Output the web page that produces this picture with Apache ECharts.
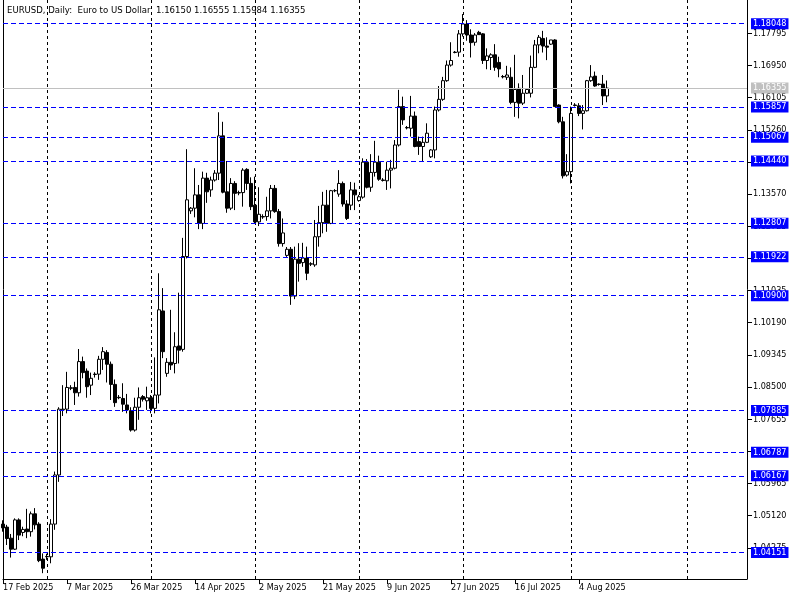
<!DOCTYPE html>
<html><head><meta charset="utf-8">
<script src="https://cdn.jsdelivr.net/npm/echarts@6/dist/echarts.min.js"></script>
<style>html,body{margin:0;padding:0;background:#fff}#c{width:800px;height:600px}</style>
</head><body><div id="c"></div>
<script>
// ---------------- DATA ----------------
const titleText = 'EURUSD, Daily:  Euro to US Dollar  1.16150 1.16555 1.15984 1.16355';
const firstBarDate = [2025, 1, 17]; // 17 Feb 2025 (bars Sun..Fri)
const totalSlots = 187;             // bars + empty future slots (calendar days)

const open = [
1.0490,1.0482,1.0453,1.0424,1.0501,1.0468,1.0477,1.0470,1.0517,1.0490,
1.0398,1.0405,1.0404,1.0490,1.0619,1.0790,1.0792,1.0848,1.0849,1.0835,
1.0917,1.0892,1.0855,1.0884,1.0884,1.0923,1.0941,1.0910,1.0857,1.0823,
1.0820,1.0803,1.0788,1.0737,1.0797,1.0825,1.0814,1.0822,1.0794,1.0829,
1.1050,1.0886,1.0915,1.0912,1.0958,1.0949,1.1193,1.1313,1.1320,1.1355,
1.1280,1.1399,1.1368,1.1394,1.1412,1.1510,1.1363,1.1320,1.1385,1.1361,
1.1361,1.1422,1.1385,1.1328,1.1284,1.1298,1.1298,1.1313,1.1372,1.1311,
1.1227,1.1196,1.1212,1.1089,1.1186,1.1177,1.1189,1.1173,1.1171,1.1245,
1.1282,1.1328,1.1280,1.1366,1.1357,1.1385,1.1331,1.1328,1.1368,1.1340,
1.1349,1.1441,1.1375,1.1414,1.1441,1.1394,1.1392,1.1420,1.1425,1.1486,
1.1587,1.1532,1.1530,1.1562,1.1495,1.1482,1.1493,1.1455,1.1473,1.1578,
1.1606,1.1655,1.1696,1.1730,1.1730,1.1778,1.1804,1.1775,1.1756,1.1782,
1.1778,1.1708,1.1716,1.1723,1.1703,1.1666,1.1664,1.1664,1.1598,1.1635,
1.1596,1.1622,1.1622,1.1690,1.1749,1.1766,1.1746,1.1751,1.1762,1.1591,
1.1547,1.1407,1.1416,1.1591,1.1589,1.1569,1.1576,1.1655,1.1667,1.1646,
1.1646,1.16150];
const high = [
1.0500,1.0488,1.0464,1.0505,1.0505,1.0483,1.0530,1.0523,1.0532,1.0495,
1.0413,1.0412,1.0503,1.0628,1.0797,1.0855,1.0890,1.0855,1.0864,1.0950,
1.0930,1.0899,1.0888,1.0889,1.0932,1.0955,1.0947,1.0917,1.0870,1.0829,
1.0860,1.0832,1.0797,1.0822,1.0849,1.0829,1.0851,1.0829,1.0928,1.1149,
1.1110,1.0926,1.1053,1.0994,1.1098,1.1242,1.1475,1.1323,1.1425,1.1381,
1.1416,1.1413,1.1403,1.1420,1.1572,1.1547,1.1444,1.1399,1.1391,1.1366,
1.1425,1.1425,1.1401,1.1403,1.1375,1.1304,1.1350,1.1381,1.1381,1.1318,
1.1293,1.1218,1.1218,1.1219,1.1228,1.1229,1.1219,1.1178,1.1289,1.1326,
1.1363,1.1368,1.1368,1.1370,1.1420,1.1390,1.1341,1.1389,1.1387,1.1355,
1.1451,1.1449,1.1462,1.1497,1.1458,1.1399,1.1442,1.1447,1.1499,1.1631,
1.1613,1.1536,1.1615,1.1574,1.1508,1.1508,1.1543,1.1475,1.1587,1.1641,
1.1665,1.1708,1.1756,1.1733,1.1788,1.1830,1.1814,1.1790,1.1780,1.1786,
1.1780,1.1740,1.1727,1.1751,1.1718,1.1670,1.1694,1.1690,1.1723,1.1648,
1.1670,1.1634,1.1721,1.1762,1.1775,1.1786,1.1769,1.1762,1.1764,1.1593,
1.1560,1.1462,1.1587,1.1596,1.1596,1.1591,1.1657,1.1696,1.1679,1.1648,
1.1670,1.16555];
const low = [
1.0470,1.0435,1.0402,1.0422,1.0448,1.0458,1.0453,1.0457,1.0476,1.0390,
1.0361,1.0396,1.0387,1.0475,1.0601,1.0774,1.0781,1.0842,1.0803,1.0825,
1.0873,1.0822,1.0829,1.0875,1.0869,1.0895,1.0862,1.0816,1.0798,1.0818,
1.0785,1.0781,1.0733,1.0733,1.0764,1.0812,1.0790,1.0781,1.0781,1.0807,
1.0926,1.0877,1.0895,1.0886,1.0912,1.0943,1.1188,1.1305,1.1296,1.1265,
1.1265,1.1334,1.1350,1.1390,1.1394,1.1359,1.1308,1.1315,1.1315,1.1354,
1.1324,1.1368,1.1315,1.1280,1.1273,1.1292,1.1287,1.1293,1.1308,1.1219,
1.1219,1.1192,1.1066,1.1081,1.1127,1.1166,1.1131,1.1168,1.1166,1.1219,
1.1254,1.1258,1.1278,1.1362,1.1350,1.1324,1.1289,1.1315,1.1315,1.1337,
1.1345,1.1372,1.1363,1.1403,1.1392,1.1390,1.1368,1.1372,1.1422,1.1482,
1.1539,1.1527,1.1508,1.1480,1.1460,1.1444,1.1491,1.1452,1.1451,1.1574,
1.1602,1.1652,1.1692,1.1727,1.1718,1.1771,1.1760,1.1716,1.1747,1.1775,
1.1699,1.1685,1.1683,1.1681,1.1664,1.1661,1.1657,1.1593,1.1560,1.1556,
1.1591,1.1620,1.1611,1.1688,1.1727,1.1729,1.1709,1.1749,1.1587,1.1543,
1.1398,1.1403,1.1385,1.1587,1.1562,1.1527,1.1574,1.1652,1.1639,1.1642,
1.1591,1.15984];
const close = [
1.0480,1.0452,1.0424,1.0501,1.0461,1.0476,1.0470,1.0517,1.0488,1.0394,
1.0374,1.0404,1.0490,1.0619,1.0792,1.0792,1.0849,1.0847,1.0835,1.0917,
1.0888,1.0851,1.0873,1.0883,1.0923,1.0943,1.0910,1.0857,1.0809,1.0822,
1.0805,1.0790,1.0737,1.0797,1.0822,1.0818,1.0822,1.0794,1.0829,1.1053,
1.0943,1.0915,1.0908,1.0956,1.0947,1.1193,1.1342,1.1320,1.1355,1.1280,
1.1399,1.1363,1.1394,1.1412,1.1510,1.1362,1.1320,1.1385,1.1359,1.1360,
1.1420,1.1385,1.1324,1.1284,1.1304,1.1297,1.1313,1.1372,1.1311,1.1227,
1.1255,1.1212,1.1089,1.1186,1.1175,1.1189,1.1149,1.1174,1.1245,1.1282,
1.1328,1.1280,1.1366,1.1366,1.1385,1.1331,1.1293,1.1368,1.1355,1.1350,
1.1441,1.1375,1.1414,1.1441,1.1396,1.1393,1.1420,1.1425,1.1486,1.1587,
1.1552,1.1531,1.1562,1.1482,1.1482,1.1493,1.1517,1.1473,1.1578,1.1606,
1.1655,1.1696,1.1708,1.1729,1.1778,1.1804,1.1775,1.1755,1.1775,1.1776,
1.1708,1.1720,1.1723,1.1690,1.1686,1.1665,1.1670,1.1598,1.1632,1.1596,
1.1622,1.1632,1.1690,1.1749,1.1769,1.1746,1.1743,1.1762,1.1587,1.1547,
1.1405,1.1416,1.1569,1.1590,1.1569,1.1576,1.1655,1.1665,1.1641,1.1645,
1.1615,1.16355];

const levelLines = [1.18048,1.15857,1.15067,1.14440,1.12807,1.11922,1.10900,1.07885,1.06787,1.06167,1.04151];
const bidPrice = 1.16355;
const priceTicks = [1.04275,1.05120,1.05965,1.06810,1.07655,1.08500,1.09345,1.10190,1.11035,1.11880,1.12725,1.13570,1.14415,1.15260,1.16105,1.16950,1.17795];
const priceMin = 1.03457, priceMax = 1.18670;
const labelEvery = 16;
// ---------------- BUILD ----------------
const MONTHS = ['Jan','Feb','Mar','Apr','May','Jun','Jul','Aug','Sep','Oct','Nov','Dec'];
const nBars = open.length;
const dates = [];
let d = new Date(Date.UTC(firstBarDate[0], firstBarDate[1], firstBarDate[2]));
while (dates.length < nBars) {
  if (d.getUTCDay() !== 6) dates.push(new Date(d));
  d.setUTCDate(d.getUTCDate() + 1);
}
let f = new Date(dates[dates.length - 1]);
while (dates.length < totalSlots) { f.setUTCDate(f.getUTCDate() + 1); dates.push(new Date(f)); }
const categories = dates.map(x => x.getUTCDate() + ' ' + MONTHS[x.getUTCMonth()] + ' ' + x.getUTCFullYear());
const monthStart = new Set();
for (let i = 1; i < dates.length; i++) if (dates[i].getUTCMonth() !== dates[i-1].getUTCMonth()) monthStart.add(i);

const ohlc = open.map((o, i) => [o, close[i], low[i], high[i]]);

const FONT = 'DejaVu Sans Condensed, DejaVu Sans, sans-serif';
const showLabel = (i) => i % labelEvery === 0 && i < nBars;

const chart = echarts.init(document.getElementById('c'), null, {renderer: 'canvas'});
chart.setOption({
  animation: false,
  backgroundColor: '#ffffff',
  title: {text: titleText, left: 2, top: 1,
    textStyle: {fontFamily: FONT, fontSize: 9.5, fontWeight: 'normal', color: '#000'}},
  grid: {left: 2, right: 53, top: 0, bottom: 21, containLabel: false},
  xAxis: {
    type: 'category', data: categories, boundaryGap: false,
    axisLine: {show: true, lineStyle: {color: '#000', width: 1}},
    axisTick: {show: true, length: 5, interval: showLabel, lineStyle: {color: '#000'}},
    axisLabel: {show: true, interval: showLabel, align: 'left', margin: 4,
      fontFamily: FONT, fontSize: 9, color: '#000'},
    splitLine: {show: true, interval: (i) => monthStart.has(i),
      lineStyle: {color: '#000', width: 1, type: [3, 3]}}
  },
  yAxis: [{
    type: 'value', position: 'right', min: priceMin, max: priceMax, scale: true,
    axisLine: {show: true, lineStyle: {color: '#000', width: 1}},
    axisTick: {show: true, length: 5, customValues: priceTicks, lineStyle: {color: '#000'}},
    axisLabel: {show: true, customValues: priceTicks, margin: 6, align: 'left',
      fontFamily: FONT, fontSize: 9, color: '#000', formatter: v => v.toFixed(5)},
    splitLine: {show: false}
  }, {
    type: 'value', position: 'left', min: priceMin, max: priceMax,
    axisLine: {show: true, onZero: false, lineStyle: {color: '#000', width: 1}},
    axisTick: {show: false}, axisLabel: {show: false}, splitLine: {show: false}
  }],
  series: [{
    type: 'candlestick', data: ohlc, barWidth: 3, yAxisIndex: 0,
    itemStyle: {color: '#ffffff', color0: '#000000', borderColor: '#000000', borderColor0: '#000000', borderWidth: 1},
    markLine: {
      silent: true, symbol: ['none', 'none'], precision: 5, animation: false,
      lineStyle: {color: '#0000ff', width: 1, type: [5, 3]},
      label: {show: true, position: 'end', distance: 4, formatter: p => Number(p.value).toFixed(5),
        backgroundColor: '#0000ff', color: '#ffffff', padding: [1, 2, 0, 2],
        fontFamily: FONT, fontSize: 9, lineHeight: 10},
      data: levelLines.map(v => ({yAxis: v})).concat([{
        yAxis: bidPrice,
        lineStyle: {color: '#c0c0c0', type: 'solid', width: 1},
        label: {backgroundColor: '#c0c0c0', color: '#ffffff'}
      }])
    }
  }]
});
</script>
</body></html>
